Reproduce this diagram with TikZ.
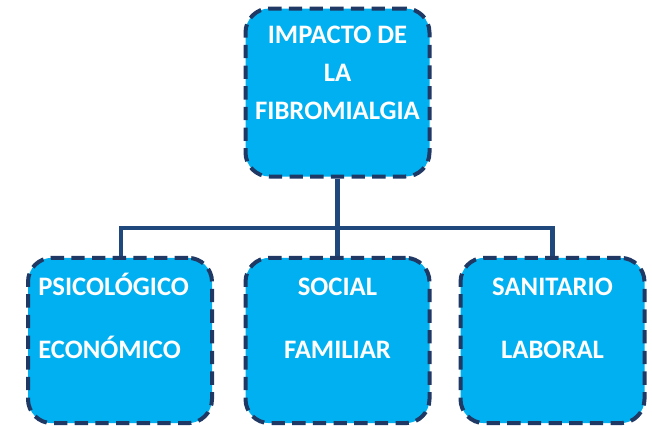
\documentclass[tikz,border=0pt]{standalone}
\usepackage{fontspec}
\setmainfont{Carlito}
\usepackage{xcolor}
\usetikzlibrary{positioning, calc, backgrounds}

\definecolor{cajaazul}{RGB}{0,176,240}
\definecolor{bordeazul}{RGB}{31,56,100}
\definecolor{lineaazul}{RGB}{31,73,125}

\tikzset{
  caja/.style={draw=bordeazul, fill=cajaazul, line width=3pt,
    dash pattern=on 10pt off 5.5pt, rounded corners=18pt,
    minimum width=138pt, minimum height=124pt, inner sep=0pt},
  texto/.style={text=white, anchor=base, inner sep=0pt,
    font=\fontsize{20}{24}\selectfont\bfseries},
  conector/.style={draw=lineaazul, line width=3.2pt}
}

\begin{document}
\begin{tikzpicture}[x=0.75pt, y=-0.75pt]

    \useasboundingbox (0,0) rectangle (652,425);

    % --- Caja principal ---
    \node[caja, minimum height=126pt] (impacto) at (337.5,92.5) {};
    \node[texto] (impacto1) at (337.5,43) {IMPACTO DE};
    \node[texto] (impacto2) at (337.5,81) {LA};
    \node[texto] (impacto3) at (337.5,119) {FIBROMIALGIA};

    % --- Cajas inferiores ---
    \node[caja] (psico) at (120,340.5) {};
    \node[caja] (social) at (337.5,340.5) {};
    \node[caja] (sanit) at (552.5,340.5) {};

    % --- Textos ---
    \node[texto, anchor=base west] (psico1) at (38,295) {PSICOLÓGICO};
    \node[texto, anchor=base west] (psico2) at (38,358) {ECONÓMICO};
    \node[texto] (social1) at (337.5,295) {SOCIAL};
    \node[texto] (social2) at (337.5,358) {FAMILIAR};
    \node[texto] (sanit1) at (552.5,295) {SANITARIO};
    \node[texto] (sanit2) at (552.5,358) {LABORAL};

    % --- Conectores (detras de las cajas) ---
    \begin{pgfonlayer}{background}
    \coordinate (cruce) at (337.5,228);
    \draw[conector] (impacto.south) -- (cruce);
    \draw[conector] ([xshift=0.75pt]psico.north) |- (cruce) -| (sanit.north);
    \draw[conector] (cruce) -- (social.north);
    \end{pgfonlayer}

\end{tikzpicture}
\end{document}
